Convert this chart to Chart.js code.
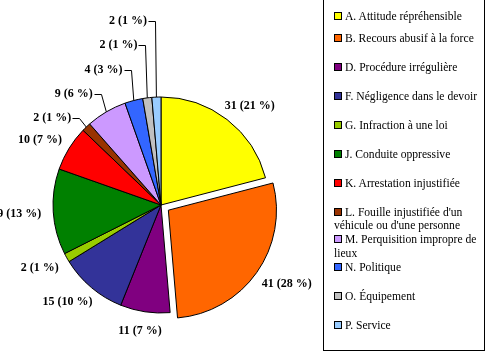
<!DOCTYPE html>
<html>
<head>
<meta charset="utf-8">
<script src="https://cdn.jsdelivr.net/npm/chart.js@4/dist/chart.umd.min.js"></script>
<style>
html, body { margin: 0; padding: 0; background: #fff; }
#wrap { position: relative; width: 485px; height: 351px; overflow: hidden; }
#pie { position: absolute; left: 0; top: 0; }
#legend {
    position: absolute; left: 323px; top: -1px; width: 162px; height: 352px;
    border: 1px solid #000; box-sizing: border-box;
    font-family: "Liberation Serif", "Times New Roman", serif; font-size: 11.6px; color: #000;
}
.item { position: absolute; left: 10px; line-height: 13.5px; white-space: nowrap; }
.swatch {
    display: inline-block; width: 6px; height: 6px; border: 1px solid #000;
    margin-right: 3px; vertical-align: 0px;
}
</style>
</head>
<body>
<div id="wrap">
    <canvas id="pie" width="485" height="351"></canvas>
    <div id="legend"></div>
</div>
<script>
// Data
const categories = [
    'A. Attitude répréhensible',
    'B. Recours abusif à la force',
    'D. Procédure irrégulière',
    'F. Négligence dans le devoir',
    'G. Infraction à une loi',
    'J. Conduite oppressive',
    'K. Arrestation injustifiée',
    "L. Fouille injustifiée d'un\nvéhicule ou d'une personne",
    'M. Perquisition impropre de\nlieux',
    'N. Politique',
    'O. Équipement',
    'P. Service'
];
const counts = [31, 41, 11, 15, 2, 19, 10, 2, 9, 4, 2, 2];

// Styles
const colors = ['#FFFF00', '#FF6600', '#800080', '#333399', '#99CC00', '#008000',
                '#FF0000', '#993300', '#CC99FF', '#3366FF', '#C0C0C0', '#99CCFF'];
const explode = [0, 9, 0, 0, 0, 0, 0, 0, 0, 0, 0, 0]; // pixels

const total = counts.reduce((a, b) => a + b, 0);

// Value labels drawn around the pie, with leader lines for the small top-left slices
const pieLabels = {
    id: 'pieLabels',
    afterDatasetsDraw(chart) {
        const ctx = chart.ctx;
        const arcs = chart.getDatasetMeta(0).data;
        ctx.save();
        ctx.font = 'bold 12px "Liberation Serif"';
        ctx.fillStyle = '#000';
        ctx.strokeStyle = '#000';
        ctx.lineWidth = 1;
        ctx.textBaseline = 'middle';
        ctx.textAlign = 'left';

        const leaders = [];
        arcs.forEach((arc, i) => {
            const mid = (arc.startAngle + arc.endAngle) / 2;
            const fromTop = ((mid + Math.PI / 2) * 180 / Math.PI + 360) % 360;
            const text = counts[i] + ' (' + Math.round(counts[i] / total * 100) + ' %)';
            const w = ctx.measureText(text).width;
            const cx0 = arc.x + Math.cos(mid) * explode[i];
            const cy0 = arc.y + Math.sin(mid) * explode[i];
            if (fromTop > 310) {
                leaders.push({ i, mid, text, w,
                    ax: cx0 + Math.cos(mid) * arc.outerRadius,
                    ay: cy0 + Math.sin(mid) * arc.outerRadius });
                return;
            }
            const R = arc.outerRadius + 12;
            const px = cx0 + Math.cos(mid) * R;
            const py = cy0 + Math.sin(mid) * R;
            const cx = px + Math.cos(mid) * w / 2;
            const cy = py + Math.sin(mid) * 6 + 1;
            ctx.fillText(text, cx - w / 2, cy);
        });

        // stack leader labels upward, last slice on top
        const n = leaders.length;
        leaders.forEach((l, k) => {
            const ly = 21 + (n - 1 - k) * 24.3;
            const dy = l.ay - ly;
            const ex = l.ax - Math.min(7, 100 / Math.max(dy, 1));
            ctx.beginPath();
            ctx.moveTo(l.ax, l.ay);
            ctx.lineTo(Math.round(ex) + 0.5, Math.round(ly) + 0.5);
            ctx.lineTo(Math.round(ex - 7) + 0.5, Math.round(ly) + 0.5);
            ctx.stroke();
            ctx.fillText(l.text, ex - 8 - l.w, ly);
        });
        ctx.restore();
    }
};

new Chart(document.getElementById('pie'), {
    type: 'pie',
    data: {
        labels: categories,
        datasets: [{
            data: counts,
            backgroundColor: colors,
            borderColor: '#000',
            borderWidth: 1,
            offset: explode.map(v => v * 4) // Chart.js moves an arc by offset / 4
        }]
    },
    options: {
        responsive: false,
        animation: false,
        radius: 108,
        layout: { padding: { left: 0, right: 163, top: 59, bottom: 0 } },
        plugins: { legend: { display: false }, tooltip: { enabled: false } }
    },
    plugins: [pieLabels]
});

// Legend
const legend = document.getElementById('legend');
let legendTop = 10;
categories.forEach((name, i) => {
    const lines = name.split('\n');
    const item = document.createElement('div');
    item.className = 'item';
    item.style.top = legendTop + 'px';
    item.innerHTML = '<span class="swatch" style="background:' + colors[i] + '"></span>' +
        lines.join('<br>');
    legend.appendChild(item);
    let gap = lines.length > 1 ? 0.5 : 15.5;
    if (i === 0) gap = 8;
    legendTop += lines.length * 13.5 + gap;
});
</script>
</body>
</html>
